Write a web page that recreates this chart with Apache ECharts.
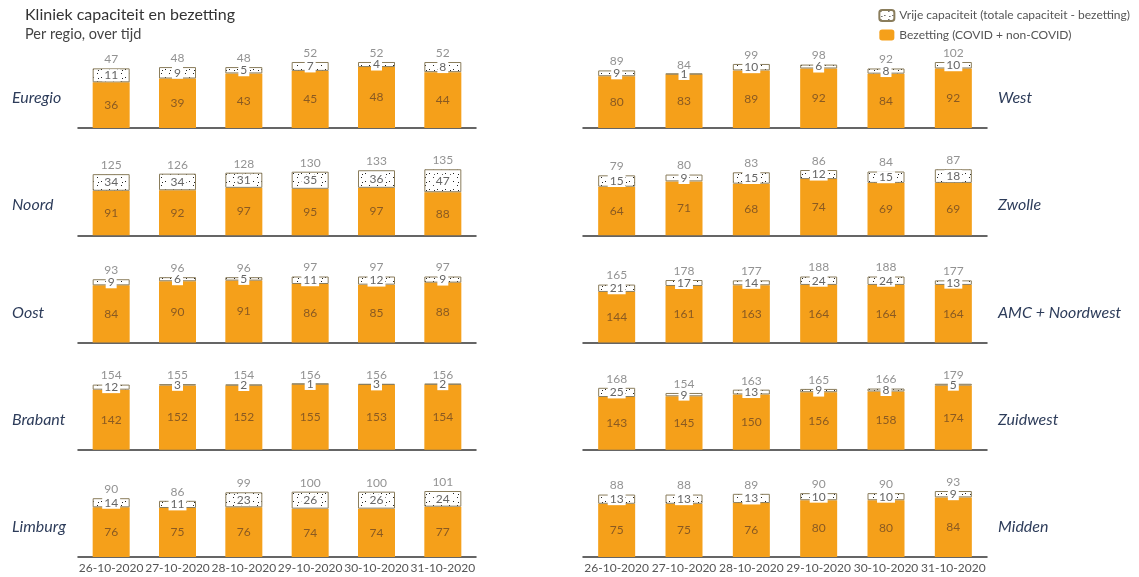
<!DOCTYPE html>
<html>
<head>
<meta charset="utf-8">
<script src="https://cdn.jsdelivr.net/npm/echarts@6/dist/echarts.min.js"></script>
<style>
  html, body { margin: 0; padding: 0; background: #fff; }
  #main { width: 1139px; height: 577px; }
</style>
</head>
<body>
<div id="main"></div>
<script>
// datums
const dates = ["26-10-2020", "27-10-2020", "28-10-2020", "29-10-2020", "30-10-2020", "31-10-2020"]
// regio's: eerst linker kolom, dan rechter kolom
const regions = ["Euregio", "Noord", "Oost", "Brabant", "Limburg", "West", "Zwolle", "AMC + Noordwest", "Zuidwest", "Midden"]

// bezetting (COVID + non-COVID) per regio
const bezetting = [
  [36, 39, 43, 45, 48, 44],
  [91, 92, 97, 95, 97, 88],
  [84, 90, 91, 86, 85, 88],
  [142, 152, 152, 155, 153, 154],
  [76, 75, 76, 74, 74, 77],
  [80, 83, 89, 92, 84, 92],
  [64, 71, 68, 74, 69, 69],
  [144, 161, 163, 164, 164, 164],
  [143, 145, 150, 156, 158, 174],
  [75, 75, 76, 80, 80, 84]
]
// vrije capaciteit per regio
const vrij = [
  [11, 9, 5, 7, 4, 8],
  [34, 34, 31, 35, 36, 47],
  [9, 6, 5, 11, 12, 9],
  [12, 3, 2, 1, 3, 2],
  [14, 11, 23, 26, 26, 24],
  [9, 1, 10, 6, 8, 10],
  [15, 9, 15, 12, 15, 18],
  [21, 17, 14, 24, 24, 13],
  [25, 9, 13, 9, 8, 5],
  [13, 13, 13, 10, 10, 9]
]
// totale capaciteit (label boven de staaf)
const totaal = [
  [47, 48, 48, 52, 52, 52],
  [125, 126, 128, 130, 133, 135],
  [93, 96, 96, 97, 97, 97],
  [154, 155, 154, 156, 156, 156],
  [90, 86, 99, 100, 100, 101],
  [89, 84, 99, 98, 92, 102],
  [79, 80, 83, 86, 84, 87],
  [165, 178, 177, 188, 188, 177],
  [168, 154, 163, 165, 166, 179],
  [88, 88, 89, 90, 90, 93]
]

const NAME_VRIJ = "Vrije capaciteit (totale capaciteit - bezetting)"
const NAME_BEZET = "Bezetting (COVID + non-COVID)"
const ORANJE = "#f5a01a"
const FONT = "Lato"

// stippelpatroon voor vrije capaciteit
function makeDots() {
  const c = document.createElement("canvas")
  c.width = 8
  c.height = 8
  const ctx = c.getContext("2d")
  ctx.fillStyle = "#fff"
  ctx.fillRect(0, 0, 8, 8)
  ctx.fillStyle = "#222"
  ctx.fillRect(1, 1, 1, 1)
  ctx.fillRect(5, 5, 1, 1)
  ctx.fillRect(2, 6, 1, 1)
  return c
}
const dots = { image: makeDots(), repeat: "repeat" }

const chart = echarts.init(document.getElementById("main"))

const grids = []
const xAxes = []
const yAxes = []
const series = []
const graphics = []

const firstBase = 128
const rowStep = 107.25
const barArea = 66

for (let i = 0; i < regions.length; i++) {
  const col = i < 5 ? 0 : 1
  const row = i % 5
  const base = firstBase + row * rowStep
  grids.push({
    left: col === 0 ? 78 : 583,
    width: col === 0 ? 398 : 404,
    top: base - barArea,
    height: barArea
  })
  xAxes.push({
    type: "category",
    gridIndex: i,
    data: dates,
    axisLine: { lineStyle: { color: "#333", width: 1.5 } },
    axisTick: { show: false },
    axisLabel: {
      show: row === 4,
      interval: 0,
      color: "#555",
      fontSize: 12,
      fontFamily: FONT,
      margin: 5
    }
  })
  yAxes.push({
    type: "value",
    gridIndex: i,
    show: false,
    min: 0,
    max: function (v) { return v.max }
  })
  series.push({
    name: NAME_BEZET,
    type: "bar",
    xAxisIndex: i,
    yAxisIndex: i,
    stack: "s" + i,
    barWidth: 37,
    itemStyle: { color: ORANJE },
    label: {
      show: true,
      position: "inside",
      color: "#8a5a22",
      fontSize: 12,
      fontFamily: FONT
    },
    data: bezetting[i]
  })
  series.push({
    name: NAME_VRIJ,
    type: "bar",
    xAxisIndex: i,
    yAxisIndex: i,
    stack: "s" + i,
    barWidth: 37,
    itemStyle: { color: dots, borderColor: "#8a7d5c", borderWidth: 1 },
    label: {
      show: true,
      position: "inside",
      color: "#666",
      fontSize: 12,
      fontFamily: FONT,
      backgroundColor: "#fff",
      padding: [0, 2]
    },
    data: vrij[i]
  })
  series.push({
    type: "scatter",
    xAxisIndex: i,
    yAxisIndex: i,
    symbolSize: 0,
    silent: true,
    label: {
      show: true,
      position: "top",
      distance: 3,
      color: "#777",
      fontSize: 12,
      fontFamily: FONT
    },
    data: totaal[i]
  })
  graphics.push({
    type: "text",
    x: col === 0 ? 12 : 998,
    y: base - 30,
    style: {
      text: regions[i],
      fill: "#2d3c5a",
      font: "italic 16px " + FONT,
      verticalAlign: "middle"
    }
  })
}

const option = {
  animation: false,
  title: {
    text: "Kliniek capaciteit en bezetting",
    subtext: "Per regio, over tijd",
    left: 20,
    top: 2,
    itemGap: 4,
    textStyle: { color: "#333", fontSize: 16, fontWeight: "normal", fontFamily: FONT },
    subtextStyle: { color: "#444", fontSize: 14.5, fontFamily: FONT }
  },
  legend: {
    data: [NAME_VRIJ, NAME_BEZET],
    orient: "vertical",
    right: 4,
    top: 4,
    itemWidth: 15,
    itemHeight: 11,
    itemGap: 7,
    textStyle: { color: "#555", fontSize: 12, fontFamily: FONT }
  },
  grid: grids,
  xAxis: xAxes,
  yAxis: yAxes,
  series: series,
  graphic: graphics
}
chart.setOption(option)
</script>
</body>
</html>
